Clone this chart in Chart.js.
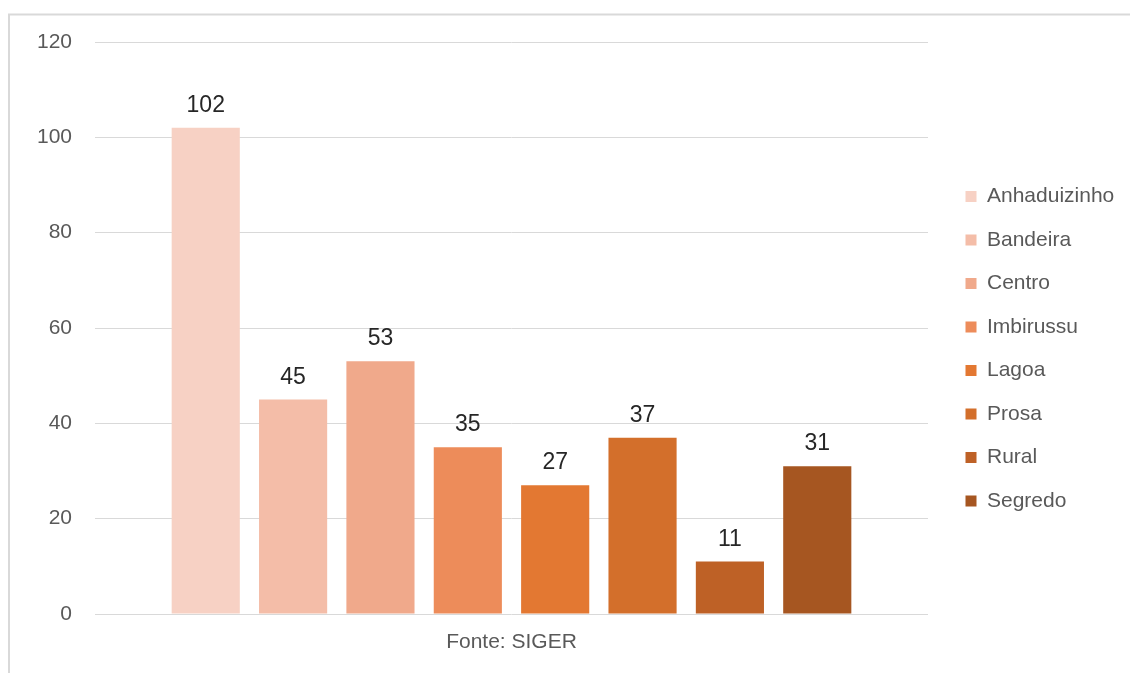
<!DOCTYPE html>
<html><head><meta charset="utf-8">
<script src="https://cdn.jsdelivr.net/npm/chart.js@4/dist/chart.umd.min.js"></script>
<style>html,body{margin:0;padding:0;background:#fff;}#wrap{width:1130px;height:673px;position:relative}</style>
</head><body><div id="wrap"><canvas id="c" width="1130" height="673"></canvas></div>
<script>
const regions = ['Anhaduizinho','Bandeira','Centro','Imbirussu','Lagoa','Prosa','Rural','Segredo'];
const counts = [102, 45, 53, 35, 27, 37, 11, 31];
const colors = ['#F7D1C4','#F4BDA8','#F0A98B','#ED8C5A','#E37832','#D36F2B','#BE6126','#A65621'];
const xLabels = ['Fonte: SIGER'];
const yMax = 120, yStep = 20;

const FONT = "'Liberation Sans', Arial, sans-serif";
const legendFontSize = 21, legendPad = 22.5, boxW = 11;
const plotRight = 928, legendBoxX = 965.5;

const mctx = document.createElement('canvas').getContext('2d');
mctx.font = legendFontSize + 'px ' + FONT;
const maxW = Math.max(...regions.map(r => mctx.measureText(r).width));
const legendWidth = legendPad + boxW + legendFontSize / 2 + maxW + 10;
const padRight = 1130 - plotRight - legendWidth;

const datasets = regions.map((r, i) => ({
  label: r,
  data: [counts[i]],
  backgroundColor: colors[i],
  borderWidth: 0
}));

const framePlugin = {
  id: 'frame',
  beforeDraw(chart) {
    const ctx = chart.ctx;
    ctx.save();
    ctx.strokeStyle = '#d9d9d9';
    ctx.lineWidth = 2;
    ctx.beginPath();
    ctx.moveTo(9, 673);
    ctx.lineTo(9, 14.5);
    ctx.lineTo(1130, 14.5);
    ctx.stroke();
    ctx.restore();
  }
};

const legendShift = {
  id: 'legendShift',
  afterLayout(chart) {
    const lg = chart.legend;
    if (!lg) return;
    const dx = legendBoxX - (lg.left + legendPad);
    lg.left += dx; lg.right += dx;
  }
};

const valueLabels = {
  id: 'valueLabels',
  afterDatasetsDraw(chart) {
    const ctx = chart.ctx;
    ctx.save();
    ctx.font = '23px ' + FONT;
    ctx.fillStyle = '#262626';
    ctx.textAlign = 'center';
    ctx.textBaseline = 'alphabetic';
    chart.data.datasets.forEach((ds, i) => {
      chart.getDatasetMeta(i).data.forEach((bar, j) => {
        ctx.fillText(String(ds.data[j]), bar.x, bar.y - 16);
      });
    });
    ctx.restore();
  }
};

new Chart(document.getElementById('c'), {
  type: 'bar',
  data: { labels: xLabels, datasets },
  options: {
    responsive: false,
    animation: false,
    events: [],
    layout: { padding: { top: 42, bottom: 17.5, left: 0, right: padRight } },
    categoryPercentage: 0.839,
    barPercentage: 0.78,
    plugins: {
      tooltip: { enabled: false },
      legend: {
        position: 'right',
        align: 'center',
        labels: {
          boxWidth: boxW, boxHeight: boxW,
          padding: legendPad,
          color: '#595959',
          font: { family: FONT, size: legendFontSize }
        }
      }
    },
    scales: {
      x: {
        grid: { display: false },
        border: { display: false },
        ticks: { color: '#595959', font: { family: FONT, size: 21 }, padding: 8 },
        afterFit(s) { s.height = 41.5; }
      },
      y: {
        min: 0, max: yMax,
        grid: { color: '#d9d9d9', lineWidth: 1, drawTicks: false },
        border: { display: false },
        ticks: { stepSize: yStep, color: '#595959', font: { family: FONT, size: 21 }, padding: 23 },
        afterFit(s) { s.width = 95; }
      }
    }
  },
  plugins: [framePlugin, legendShift, valueLabels]
});
</script>
</body></html>
